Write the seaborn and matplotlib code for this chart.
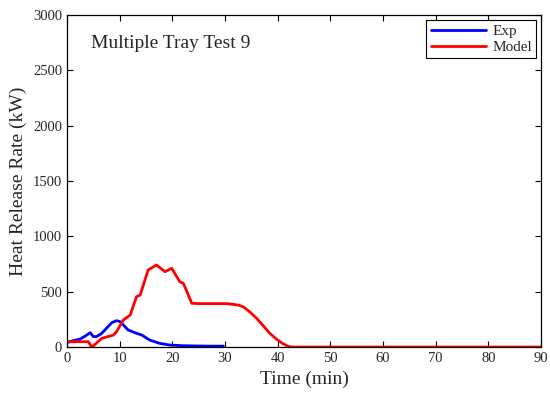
import pandas as pd
import matplotlib.pyplot as plt
import seaborn as sns

# Experimental data (min, kW)
exp_time = [0, 1.0, 2.5, 3.5, 4.4, 5.0, 5.6, 6.5, 7.2, 8.5, 9.4, 10.1, 10.8, 11.6,
            13.2, 14.2, 15.7, 17.6, 19.5, 22.0, 24.0, 27.0, 29.7]
exp_hrr = [40, 55, 72, 100, 130, 94, 94, 120, 154, 220, 238, 229, 195, 154,
           124, 108, 63, 33, 18, 12, 10, 8, 8]

# Model data (min, kW)
model_time = [0, 4.05, 4.7, 5.0, 6.6, 8.8, 9.4, 10.7, 12.0, 13.2, 13.9, 15.4, 17.0,
              18.6, 19.9, 21.4, 22.1, 23.7, 25.2, 30.3, 31.5, 32.6, 33.5, 34.7,
              36.0, 37.3, 38.5, 39.8, 41.0, 41.9, 42.6, 50, 60, 70, 80, 90]
model_hrr = [48, 48, 0, 10, 78, 108, 138, 244, 289, 455, 470, 696, 741,
             681, 711, 590, 576, 395, 392, 392, 386, 378, 362, 318,
             259, 190, 124, 70, 30, 8, 0, 0, 0, 0, 0, 0]

sns.set_style("ticks")
plt.rcParams['font.family'] = ['Liberation Serif', 'DejaVu Serif']
plt.rcParams['xtick.direction'] = 'in'
plt.rcParams['ytick.direction'] = 'in'

exp_df = pd.DataFrame({'time': exp_time, 'hrr': exp_hrr})
model_df = pd.DataFrame({'time': model_time, 'hrr': model_hrr})

fig = plt.figure(figsize=(5.5, 3.96), dpi=100)
ax = fig.add_axes([0.1218, 0.1237, 0.8618, 0.8383])

sns.lineplot(data=exp_df, x='time', y='hrr', ax=ax, color='#0000ff', lw=2, label='Exp')
sns.lineplot(data=model_df, x='time', y='hrr', ax=ax, color='#ff0000', lw=2, label='Model')

ax.set_xlim(0, 90)
ax.set_ylim(0, 3000)
ax.set_xticks(range(0, 91, 10))
ax.set_yticks(range(0, 3001, 500))
ax.tick_params(labelsize=10.5, top=True, right=True, length=4, width=0.8, color='black')
for s in ax.spines.values():
    s.set_linewidth(0.9)
    s.set_color('black')

ax.set_xlabel('Time (min)', fontsize=14)
ax.set_ylabel('Heat Release Rate (kW)', fontsize=14)
ax.text(0.05, 0.9, 'Multiple Tray Test 9', transform=ax.transAxes, fontsize=14)

leg = ax.legend(loc='upper right', fontsize=11, fancybox=False, framealpha=1,
                edgecolor='black', borderaxespad=0.3, handlelength=3.6,
                labelspacing=0.15, borderpad=0.3, handletextpad=0.4)
leg.get_frame().set_linewidth(0.8)

fig.savefig('out.png', dpi=100)
